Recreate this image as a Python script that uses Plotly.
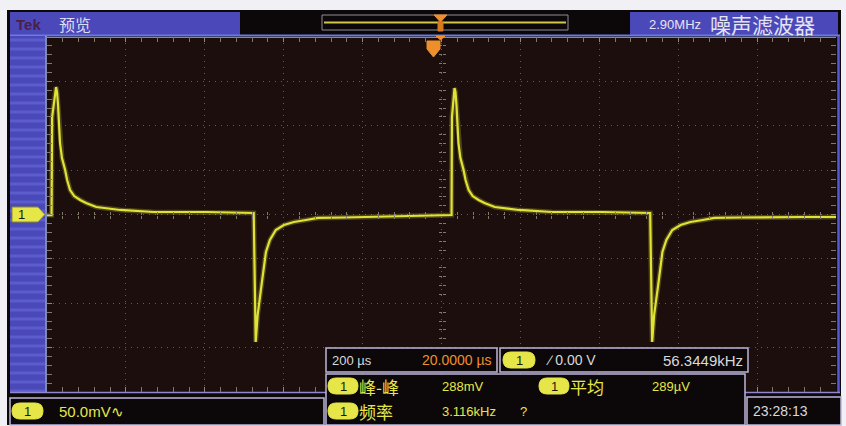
import plotly.graph_objects as go

W, H = 846, 426

# ---- waveform (time in µs, voltage in mV) ----
time_us = [-1000, -988.5, -987, -980, -977, -974.5, -972, -967, -962, -954, -949, -941.5, -931, -916, -901,
           -875, -814, -730, -595, -477,
           -476, -471, -466, -455.5, -445, -435, -420, -399.5, -374, -343.5, -313, -247, -186, -76, 24,
           25.5, 26.5, 30.5, 33, 35.5, 38, 43, 48, 56, 61, 69, 79, 94, 109, 135, 196, 280, 407, 528,
           529, 534, 539, 550, 560, 570, 585, 606, 631, 662, 692, 758, 840, 916, 1000]
volt_mV = [-0.6, -0.6, 109.8, 137.9, 143.6, 137.9, 123.3, 80.5, 63.6, 50.1, 38.8, 27.6, 20.8, 16.3, 12.9,
           8.4, 5.1, 2.8, 2.8, 1.7,
           1.7, -143.6, -113.2, -77.1, -42.2, -28.7, -17.5, -11.8, -8.4, -6.2, -3.9, -3.4, -2.8, -1.7, -0.6,
           -0.6, 109.8, 137.9, 142.4, 137.9, 123.3, 80.5, 63.6, 50.1, 38.8, 27.6, 20.8, 16.3, 12.9, 8.4,
           5.1, 2.8, 2.8, 1.7,
           1.7, -143.6, -113.2, -77.1, -42.2, -28.7, -17.5, -11.8, -8.4, -6.2, -3.9, -3.4, -2.8, -2.8, -2.8]

# axis settings (10 div x 200 µs, 8 div x 50 mV)
x_range = [-1000, 1000]
x_div = 200
y_range = [-200, 200]
y_div = 50

# on-screen texts
brand = "Tek"
mode_label = "预览"
filter_freq = "2.90MHz"
filter_label = "噪声滤波器"
ch_label = "1"
ch_scale = "50.0mV∿"
timebase = "200 µs"
delay = "20.0000 µs"
trig_level = "∕ 0.00 V"
trig_freq = "56.3449kHz"
meas_names = ["峰-峰", "平均", "频率"]
meas_values = ["288mV", "289µV", "3.116kHz"]
meas_flag = "?"
clock = "23:28:13"

# ---- colours ----
TRACE = "#e0e236"
YEL = "#e6e648"
BLUE = "#4b48b9"
BLUE_L = "#5d5ccb"
SCREEN = "#1b0e0c"
FRAME = "#0c0809"
LAV = "#bdb6da"
ORANGE = "#ef8f2c"
TXT = "#d9d9dc"

CJK = "Noto Sans CJK SC"
NARROW = "Liberation Sans Narrow, Liberation Sans, Arial, sans-serif"


def X(px):
    return px / W


def Y(py):
    return 1 - py / H


shapes = []
annotations = []


def rect(x0, y0, x1, y1, fill=None, line=None, lw=1, layer="below"):
    shapes.append(dict(type="rect", xref="paper", yref="paper",
                       x0=X(x0), x1=X(x1), y0=Y(y1), y1=Y(y0),
                       fillcolor=fill if fill else "rgba(0,0,0,0)",
                       line=dict(color=line if line else "rgba(0,0,0,0)", width=lw if line else 0),
                       layer=layer))


def hline(x0, x1, y, color, w=1, layer="below"):
    shapes.append(dict(type="line", xref="paper", yref="paper", x0=X(x0), x1=X(x1), y0=Y(y), y1=Y(y),
                       line=dict(color=color, width=w), layer=layer))


def vline(x, y0, y1, color, w=1, layer="below"):
    shapes.append(dict(type="line", xref="paper", yref="paper", x0=X(x), x1=X(x), y0=Y(y0), y1=Y(y1),
                       line=dict(color=color, width=w), layer=layer))


def path(points, fill, line=None, layer="above"):
    d = "M " + " L ".join(f"{X(a):.5f},{Y(b):.5f}" for a, b in points) + " Z"
    shapes.append(dict(type="path", xref="paper", yref="paper", path=d, fillcolor=fill,
                       line=dict(color=line if line else fill, width=1), layer=layer))


def txt(px, py, s, color, size, family, anchor="left"):
    annotations.append(dict(x=X(px), y=Y(py), xref="paper", yref="paper", text=s, showarrow=False,
                            xanchor=anchor, yanchor="middle",
                            font=dict(color=color, size=size, family=family)))


def pill(x0, y0, x1, y1, color=YEL, label="1"):
    r = (y1 - y0) / 2
    ym = (y0 + y1) / 2
    p = lambda a, b: f"{X(a):.5f},{Y(b):.5f}"
    d = (f"M {p(x0 + r, y0)} L {p(x1 - r, y0)} Q {p(x1, y0)} {p(x1, ym)} Q {p(x1, y1)} {p(x1 - r, y1)} "
         f"L {p(x0 + r, y1)} Q {p(x0, y1)} {p(x0, ym)} Q {p(x0, y0)} {p(x0 + r, y0)} Z")
    shapes.append(dict(type="path", xref="paper", yref="paper", path=d, fillcolor=color,
                       line=dict(color=color, width=1), layer="above"))
    txt((x0 + x1) / 2, ym + 0.5, label, "#1a1a10", 13, NARROW, anchor="center")


# ---- screen frame & panels ----
rect(7, 10, 841, 425, fill=FRAME)
rect(47, 37, 836, 392, fill=SCREEN)
# top bar
rect(10, 12, 240, 35, fill=BLUE)
rect(630, 12, 838, 35, fill=BLUE)
hline(10, 840, 35.5, "#6d7be0", 2)
# left strip with scan-line stripes
rect(10, 36, 45, 392, fill=BLUE)
for k in range(36, 392, 9):
    hline(10, 45, k + 4, BLUE_L, 3)
vline(46, 36, 392, "#aab2e6", 1.5)
vline(838.5, 36, 393, "#5a58d0", 2.5)
hline(10, 840, 392.5, "#8f88cc", 1.5)
hline(47, 836, 37.5, "#8e8e78", 1)

# record length bar and trigger markers
rect(322, 15, 568, 30, line="#8d8d99", lw=1)
hline(324, 566, 22.5, "#cfc64a", 2)
path([(434, 15), (447, 15), (440.5, 22)], ORANGE)
path([(438, 22), (443, 22), (443, 31), (438, 31)], "#d87a20")
path([(436, 36), (445, 36), (440.5, 40)], ORANGE)
path([(427, 41), (440, 41), (440, 49), (433.5, 57), (427, 49)], ORANGE)

# channel ground marker
path([(12, 207), (38, 207), (45, 214.5), (38, 222), (12, 222)], YEL, line="#8a8a20")
txt(21, 215, ch_label, "#1a1a10", 13, NARROW, anchor="center")

# measurement / status boxes (drawn above the plot)
rect(326, 348, 497, 372, fill=FRAME, line=LAV, lw=1.5, layer="above")
rect(500, 348, 748, 372, fill=FRAME, line=LAV, lw=1.5, layer="above")
rect(326, 374, 745, 425, fill=FRAME, line=LAV, lw=1.5, layer="above")
rect(10, 398, 324, 425, fill=FRAME, line=LAV, lw=1.5, layer="above")
rect(747, 397, 841, 425, fill=FRAME, line=LAV, lw=1.5, layer="above")

# ---- texts ----
txt(14, 24, f"<b>{brand}</b>", "#4a2044", 15, NARROW)
txt(57, 24, mode_label, "#dcdcf2", 16, CJK)
txt(647, 24, filter_freq, "#e4e4f2", 13, NARROW)
txt(708, 24, filter_label, "#e4e4f2", 21, CJK)

pill(12, 403, 43, 419)
txt(57, 411, ch_scale, YEL, 15, NARROW)

txt(330, 360, timebase, TXT, 13, NARROW)
txt(420, 360, delay, ORANGE, 14, NARROW)
pill(503, 352, 535, 368)
txt(544, 360, trig_level, TXT, 14, NARROW)
txt(745, 360, trig_freq, TXT, 15, NARROW, anchor="right")

pill(328, 378, 358, 394)
txt(357, 386, meas_names[0], YEL, 17, CJK)
txt(440, 386, meas_values[0], YEL, 13, NARROW)
pill(539, 378, 569, 394)
txt(568, 386, meas_names[1], YEL, 17, CJK)
txt(650, 386, meas_values[1], YEL, 13, NARROW)
pill(328, 403, 358, 419)
txt(357, 411, meas_names[2], YEL, 17, CJK)
txt(440, 411, meas_values[2], YEL, 13, NARROW)
txt(518, 411, meas_flag, YEL, 13, NARROW)

txt(751, 411, clock, TXT, 14, NARROW)

# ---- figure ----
fig = go.Figure()
# soft phosphor glow under the trace
fig.add_trace(go.Scatter(x=time_us, y=volt_mV, mode="lines",
                         line=dict(color="rgba(225,226,60,0.25)", width=5), hoverinfo="skip", showlegend=False))
fig.add_trace(go.Scatter(x=time_us, y=volt_mV, mode="lines",
                         line=dict(color=TRACE, width=2.2), hoverinfo="skip", showlegend=False))
# empty traces to host the centre-cross tick axes
for xa, ya in [("x2", "y"), ("x3", "y"), ("x", "y2"), ("x", "y3")]:
    fig.add_trace(go.Scatter(x=[], y=[], xaxis=xa, yaxis=ya, showlegend=False))

grid_col = "rgba(165,155,130,0.55)"
dom_x = [X(47), X(836)]
dom_y = [Y(392), Y(37)]
cx_paper = (dom_x[0] + dom_x[1]) / 2
cy_paper = (dom_y[0] + dom_y[1]) / 2

edge_axis = dict(showgrid=True, gridcolor=grid_col, griddash="1px,5px", gridwidth=1,
                 zeroline=False, showticklabels=False, showline=False,
                 ticks="inside", ticklen=5, tickcolor="#8d8a78", mirror="allticks", fixedrange=True)

fig.update_layout(
    width=W, height=H, margin=dict(l=0, r=0, t=0, b=0),
    paper_bgcolor="#f0f0f5", plot_bgcolor="rgba(0,0,0,0)",
    shapes=shapes, annotations=annotations, showlegend=False,
    xaxis=dict(domain=dom_x, range=x_range, dtick=x_div, tick0=0,
               minor=dict(dtick=x_div / 5, ticks="inside", ticklen=3, tickcolor="#7d7a6a", showgrid=False),
               **edge_axis),
    yaxis=dict(domain=dom_y, range=y_range, dtick=y_div, tick0=0,
               minor=dict(dtick=y_div / 5, ticks="inside", ticklen=3, tickcolor="#7d7a6a", showgrid=False),
               **edge_axis),
)
cross = dict(showgrid=False, zeroline=False, showticklabels=False, showline=False, fixedrange=True, ticks="")


def cross_axis(kind, tickdir, pos, dtick):
    d = dict(anchor="free", position=pos, dtick=dtick,
             minor=dict(dtick=dtick / 5, ticks=tickdir, ticklen=3, tickcolor="#7d7a6a"), **cross)
    if kind == "x":
        d.update(overlaying="x", matches="x", side="bottom")
    else:
        d.update(overlaying="y", matches="y", side="left")
    return d


fig.update_layout(
    xaxis2=cross_axis("x", "inside", cy_paper, x_div),
    xaxis3=cross_axis("x", "outside", cy_paper, x_div),
    yaxis2=cross_axis("y", "inside", cx_paper, y_div),
    yaxis3=cross_axis("y", "outside", cx_paper, y_div),
)

fig.write_html("out.html", config={"displayModeBar": False, "staticPlot": True},
               post_script="document.body.style.margin='0';document.body.style.overflow='hidden';")
